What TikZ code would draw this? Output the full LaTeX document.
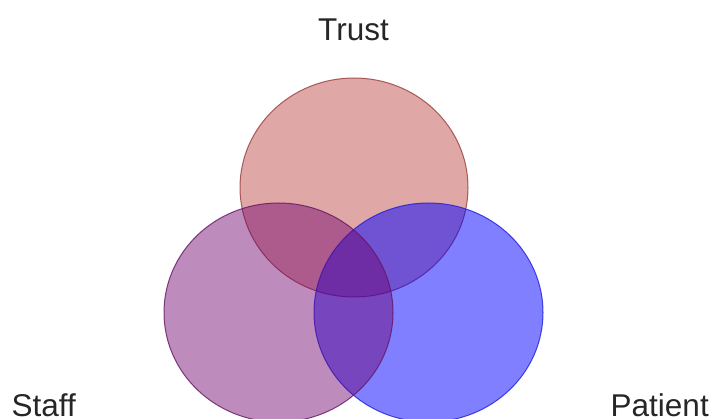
\documentclass[tikz,border=0pt]{standalone}
\usepackage{fontspec}
\setmainfont{Liberation Sans}
\definecolor{trustfill}{RGB}{192,80,77}
\definecolor{trustline}{RGB}{150,60,60}
\definecolor{stafffill}{RGB}{110,0,110}
\definecolor{staffline}{RGB}{100,20,100}
\definecolor{patfill}{RGB}{0,0,255}
\definecolor{patline}{RGB}{30,30,220}
\tikzset{
  vennlabel/.style={inner sep=0pt, font=\fontsize{31.5}{36}\selectfont, text=black!85},
  venn/.style={line width=1pt, draw opacity=0.8}
}
\begin{document}
\begin{tikzpicture}[x=1pt,y=1pt]
\useasboundingbox (0,0) rectangle (714,418);
\clip (0,0) rectangle (714,418);
\fill[white] (0,0) rectangle (714,418);
\path[venn, fill=trustfill, fill opacity=0.5, draw=trustline] (354,230.5) ellipse [x radius=114, y radius=109.5];
\path[venn, fill=patfill, fill opacity=0.5, draw=patline] (428.5,105.5) ellipse [x radius=114.5, y radius=109.5];
\path[venn, fill=stafffill, fill opacity=0.45, draw=staffline] (278.5,105.5) ellipse [x radius=114.5, y radius=109.5];
\node[vennlabel, anchor=base] (trust) at (353.5,377) {Trust};
\node[vennlabel, anchor=base west] (staff) at (11.5,2) {Staff};
\node[vennlabel, anchor=base west] (patient) at (610.5,2) {Patient};
\end{tikzpicture}
\end{document}
